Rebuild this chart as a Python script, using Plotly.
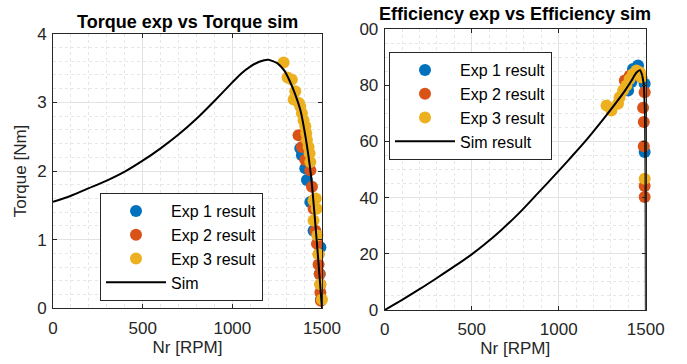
import plotly.graph_objects as go

# ---------------- data ----------------
# Torque simulation curve
sim_torque_rpm = [0, 100, 200, 300, 400, 500, 600, 700, 800, 900, 1000, 1050, 1100, 1150, 1200,
                  1250, 1290, 1320, 1350, 1380, 1400, 1420, 1440, 1460, 1480, 1500]
sim_torque_nm = [1.55, 1.64, 1.75, 1.86, 1.99, 2.15, 2.33, 2.53, 2.76, 3.02, 3.29, 3.42, 3.52, 3.59, 3.62,
                 3.57, 3.46, 3.31, 3.12, 2.88, 2.62, 2.30, 1.90, 1.32, 0.68, 0.0]

# Torque experiments
exp1_torque_rpm = [1379, 1388, 1407, 1416, 1435, 1453, 1491, 1487, 1494]
exp1_torque_nm = [2.33, 2.23, 2.04, 1.87, 1.55, 1.13, 0.89, 0.50, 0.13]
exp2_torque_rpm = [1369, 1388, 1407, 1435, 1444, 1453, 1453, 1463, 1472, 1481, 1481, 1487, 1491, 1491, 1494]
exp2_torque_nm = [2.52, 2.35, 2.16, 2.01, 1.77, 1.57, 1.45, 1.13, 0.94, 0.79, 0.64, 0.50, 0.35, 0.23, 0.11]
exp3_torque_rpm = [1286, 1308, 1332, 1351, 1342, 1371, 1379, 1388, 1397, 1407, 1412, 1416, 1425, 1431, 1435,
                   1453, 1465, 1470, 1453, 1474, 1481, 1490, 1500]
exp3_torque_nm = [3.58, 3.36, 3.33, 3.16, 3.04, 2.99, 2.94, 2.84, 2.74, 2.65, 2.55, 2.45, 2.35, 2.26, 2.13,
                  1.57, 1.60, 1.45, 1.28, 1.06, 0.79, 0.35, 0.13]

# Efficiency simulation curve
sim_eff_rpm = [0, 100, 200, 300, 400, 500, 571, 669, 768, 866, 1000, 1063, 1152, 1260, 1319, 1378,
               1417, 1447, 1467, 1480, 1490, 1496, 1499, 1501]
sim_eff_pct = [0, 3.6, 7.4, 11.4, 15.5, 19.8, 23.2, 28.4, 34.2, 40.6, 49.5, 53.8, 60.0, 68.2, 72.9, 77.8,
               81.5, 84.5, 85.3, 83.5, 80.0, 70.6, 50.0, 0.0]
SMOOTH_END = 19  # index where the curve turns into the near-vertical drop

# Efficiency experiments
exp1_eff_rpm = [1399, 1418, 1427, 1456, 1494, 1494]
exp1_eff_pct = [78.1, 81.1, 85.8, 87.0, 80.5, 56.2]
exp2_eff_rpm = [1380, 1408, 1475, 1494, 1485, 1489, 1489, 1494, 1494]
exp2_eff_pct = [81.7, 83.4, 82.8, 77.5, 72.0, 66.9, 58.3, 44.1, 40.2]
exp3_eff_rpm = [1275, 1303, 1341, 1350, 1370, 1389, 1408, 1427, 1447, 1466, 1475, 1494]
exp3_eff_pct = [72.8, 71.0, 73.4, 75.7, 78.1, 79.9, 82.2, 84.0, 85.2, 84.6, 82.8, 46.7]

x_ticks = [0, 500, 1000, 1500]
torque_ticks = [0, 1, 2, 3, 4]
eff_ticks = [0, 20, 40, 60, 80, 100]
eff_ticktext = ["0", "20", "40", "60", "80", "00"]

# ---------------- style ----------------
C1, C2, C3 = "#0072BD", "#D95319", "#EDB120"
FONT = "Liberation Sans, Arial, sans-serif"
TXT = "#262626"
W, H = 687, 364
MS = 12
FS = 17

fig = go.Figure()

def add_pts(x, y, color, name, xa, ya):
    fig.add_trace(go.Scatter(x=x, y=y, mode="markers", name=name, xaxis=xa, yaxis=ya,
                             marker=dict(color=color, size=MS, line=dict(width=0)),
                             cliponaxis=False,
                             legend="legend" if xa == "x" else "legend2"))

add_pts(exp1_torque_rpm, exp1_torque_nm, C1, "Exp 1 result", "x", "y")
add_pts(exp2_torque_rpm, exp2_torque_nm, C2, "Exp 2 result", "x", "y")
add_pts(exp3_torque_rpm, exp3_torque_nm, C3, "Exp 3 result", "x", "y")
fig.add_trace(go.Scatter(x=sim_torque_rpm, y=sim_torque_nm, mode="lines", name="Sim",
                         line=dict(color="black", width=2, shape="spline", smoothing=0.6),
                         xaxis="x", yaxis="y", legend="legend"))

add_pts(exp1_eff_rpm, exp1_eff_pct, C1, "Exp 1 result", "x2", "y2")
add_pts(exp2_eff_rpm, exp2_eff_pct, C2, "Exp 2 result", "x2", "y2")
add_pts(exp3_eff_rpm, exp3_eff_pct, C3, "Exp 3 result", "x2", "y2")
fig.add_trace(go.Scatter(x=sim_eff_rpm[:SMOOTH_END + 1], y=sim_eff_pct[:SMOOTH_END + 1], mode="lines",
                         name="Sim result", line=dict(color="black", width=2, shape="spline", smoothing=0.8),
                         xaxis="x2", yaxis="y2", legend="legend2"))
fig.add_trace(go.Scatter(x=sim_eff_rpm[SMOOTH_END:], y=sim_eff_pct[SMOOTH_END:], mode="lines",
                         name="Sim result", line=dict(color="black", width=2),
                         xaxis="x2", yaxis="y2", showlegend=False, legend="legend2"))

def ax(domain, rng, tickvals, minor_dt, anchor, title=None, ticktext=None, is_x=True):
    d = dict(domain=domain, range=rng, tickvals=tickvals, anchor=anchor, automargin=False,
             showline=True, mirror="ticks", linecolor=TXT, linewidth=1,
             ticks="inside", ticklen=4, tickcolor=TXT, tickwidth=1,
             showgrid=True, gridcolor="#e3e3e3", gridwidth=1, zeroline=False,
             tickfont=dict(family=FONT, size=FS, color=TXT),
             ticklabelstandoff=4 if is_x else 2,
             minor=dict(dtick=minor_dt, showgrid=True, gridcolor="#e6e6e6",
                        griddash="dot", gridwidth=1, ticks=""),
             fixedrange=True)
    if ticktext is not None:
        d["ticktext"] = ticktext
    if title:
        d["title"] = dict(text=title, font=dict(family=FONT, size=FS, color=TXT),
                          standoff=0 if is_x else 6)
    return d

xl0, xl1 = 53 / W, 322 / W
yl0, yl1 = 1 - 308.4 / H, 1 - 33.6 / H
xr0, xr1 = 384.7 / W, 645.7 / W
yr0, yr1 = 1 - 310 / H, 1 - 29 / H

legend_common = dict(bgcolor="white", bordercolor=TXT, borderwidth=1,
                     font=dict(family=FONT, size=16, color="black"),
                     xanchor="left", yanchor="top", itemwidth=60,
                     tracegroupgap=0, traceorder="normal")

fig.update_layout(
    template="none",
    width=W, height=H, margin=dict(l=0, r=0, t=0, b=0, autoexpand=False),
    paper_bgcolor="white", plot_bgcolor="white",
    xaxis=ax([xl0, xl1], [0, 1500], x_ticks, 100, "y", "Nr [RPM]"),
    yaxis=ax([yl0, yl1], [0, 4], torque_ticks, 0.2, "x", "Torque [Nm]", is_x=False),
    xaxis2=ax([xr0, xr1], [0, 1500], x_ticks, 100, "y2", "Nr [RPM]"),
    yaxis2=ax([yr0, yr1], [0, 100], eff_ticks, 5, "x2", None, eff_ticktext, is_x=False),
    legend=dict(x=100 / W, y=1 - 193 / H, **legend_common),
    legend2=dict(x=389 / W, y=1 - 52 / H, **legend_common),
    annotations=[
        dict(text="<b>Torque exp vs Torque sim</b>", x=(xl0 + xl1) / 2, y=1 - 22 / H,
             xref="paper", yref="paper", showarrow=False, xanchor="center", yanchor="middle",
             font=dict(family=FONT, size=18, color="black")),
        dict(text="<b>Efficiency exp vs Efficiency sim</b>", x=(xr0 + xr1) / 2, y=1 - 14 / H,
             xref="paper", yref="paper", showarrow=False, xanchor="center", yanchor="middle",
             font=dict(family=FONT, size=18, color="black")),
    ],
    showlegend=True,
)

fig.write_html("out.html")
